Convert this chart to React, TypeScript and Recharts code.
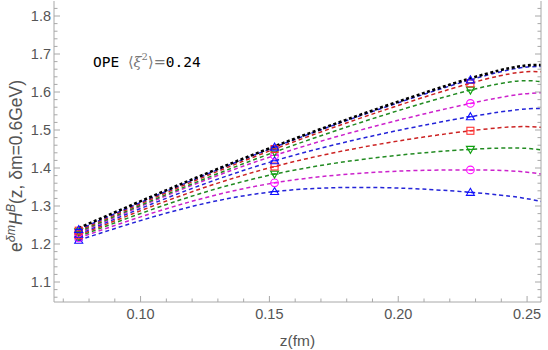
import React from 'react';
import { ComposedChart, Line, Scatter, XAxis, YAxis } from 'recharts';

// z values (fm): lattice points and the right edge of the plot
const curveZ = [0.076, 0.152, 0.228, 0.2554];
const markerZ = [0.076, 0.152, 0.228];

// OPE curve (black dotted)
const opeCurve = [1.242, 1.457, 1.636, 1.671];
// fitted curves, top to bottom
const curve1Blue = [1.238, 1.455, 1.632, 1.667];
const curve2Red = [1.235, 1.45, 1.623, 1.653];
const curve3Green = [1.232, 1.442, 1.605, 1.627];
const curve4Magenta = [1.229, 1.433, 1.57, 1.598];
const curve5Blue = [1.226, 1.419, 1.535, 1.557];
const curve6Red = [1.223, 1.404, 1.498, 1.507];
const curve7Green = [1.22, 1.384, 1.449, 1.448];
const curve8Magenta = [1.216, 1.361, 1.395, 1.384];
const curve9Blue = [1.21, 1.338, 1.336, 1.312];

const xTicks = [0.07, 0.08, 0.09, 0.1, 0.11, 0.12, 0.13, 0.14, 0.15, 0.16, 0.17, 0.18, 0.19, 0.2, 0.21, 0.22, 0.23, 0.24, 0.25];
const xMajor = [0.1, 0.15, 0.2, 0.25];
const yTicks = [1.06, 1.08, 1.1, 1.12, 1.14, 1.16, 1.18, 1.2, 1.22, 1.24, 1.26, 1.28, 1.3, 1.32, 1.34, 1.36, 1.38, 1.4, 1.42, 1.44, 1.46, 1.48, 1.5, 1.52, 1.54, 1.56, 1.58, 1.6, 1.62, 1.64, 1.66, 1.68, 1.7, 1.72, 1.74, 1.76, 1.78, 1.8, 1.82];
const yMajor = [1.1, 1.2, 1.3, 1.4, 1.5, 1.6, 1.7, 1.8];

const curves = [
  { key: 'c9', vals: curve9Blue, color: '#2424d8', marker: 'tri', mcolor: '#1010ff' },
  { key: 'c8', vals: curve8Magenta, color: '#cc22cc', marker: 'circ', mcolor: '#ff10ff' },
  { key: 'c7', vals: curve7Green, color: '#228b22', marker: 'itri', mcolor: '#10a010' },
  { key: 'c6', vals: curve6Red, color: '#cc2222', marker: 'sq', mcolor: '#ff3030' },
  { key: 'c5', vals: curve5Blue, color: '#2424d8', marker: 'tri', mcolor: '#1010ff' },
  { key: 'c4', vals: curve4Magenta, color: '#cc22cc', marker: 'circ', mcolor: '#ff10ff' },
  { key: 'c3', vals: curve3Green, color: '#228b22', marker: 'itri', mcolor: '#10a010' },
  { key: 'c2', vals: curve2Red, color: '#cc2222', marker: 'sq', mcolor: '#ff3030' },
  { key: 'c1', vals: curve1Blue, color: '#2424d8', marker: 'tri', mcolor: '#1010ff' },
];

const rows = curveZ.map((z, i) => {
  const r: any = { z, ope: opeCurve[i] };
  curves.forEach((c) => (r[c.key] = c.vals[i]));
  return r;
});

const near = (a: number, list: number[]) => list.some((m) => Math.abs(m - a) < 1e-6);
const FRAME = '#a8a8a8';
const LABEL = '#555555';
const FONT = '"Liberation Sans", Arial, sans-serif';

const BottomTick = (p: any) => {
  const { x, y, payload } = p;
  const major = near(payload.value, xMajor);
  return (
    <g>
      <line x1={x} x2={x} y1={y} y2={y - (major ? 6 : 3.5)} stroke={FRAME} />
      {major && (
        <text x={x} y={y + 12} textAnchor="middle" dominantBaseline="central" fill={LABEL} fontSize={14.5} fontFamily={FONT}>
          {payload.value.toFixed(2)}
        </text>
      )}
    </g>
  );
};
const TopTick = (p: any) => {
  const { x, y, payload } = p;
  const major = near(payload.value, xMajor);
  return <line x1={x} x2={x} y1={y} y2={y + (major ? 6 : 3.5)} stroke={FRAME} />;
};
const LeftTick = (p: any) => {
  const { x, y, payload } = p;
  const major = near(payload.value, yMajor);
  return (
    <g>
      <line x1={x} x2={x + (major ? 6 : 3.5)} y1={y} y2={y} stroke={FRAME} />
      {major && (
        <text x={x - 3} y={y} textAnchor="end" dominantBaseline="central" fill={LABEL} fontSize={14.5} fontFamily={FONT}>
          {payload.value.toFixed(1)}
        </text>
      )}
    </g>
  );
};
const RightTick = (p: any) => {
  const { x, y, payload } = p;
  const major = near(payload.value, yMajor);
  return <line x1={x} x2={x - (major ? 6 : 3.5)} y1={y} y2={y} stroke={FRAME} />;
};

const makeShape = (kind: string, color: string) => (p: any) => {
  const { cx, cy } = p;
  if (cx == null || cy == null) return <g />;
  const s = 4;
  let shape: any;
  if (kind === 'tri') shape = <path d={`M${cx},${cy - s} L${cx + s},${cy + s * 0.75} L${cx - s},${cy + s * 0.75} Z`} />;
  else if (kind === 'itri') shape = <path d={`M${cx},${cy + s} L${cx + s},${cy - s * 0.75} L${cx - s},${cy - s * 0.75} Z`} />;
  else if (kind === 'sq') shape = <rect x={cx - 3.5} y={cy - 3.5} width={7} height={7} />;
  else shape = <circle cx={cx} cy={cy} r={3.8} />;
  return (
    <g fill="none" stroke={color} strokeWidth={1.1}>
      {shape}
      <line x1={cx - s} x2={cx + s} y1={cy} y2={cy} />
    </g>
  );
};

export default function App() {
  return (
    <div style={{ position: 'absolute', left: 0, top: 0, width: 548, height: 350, background: '#fff' }}>
      <ComposedChart width={548} height={350} data={rows} margin={{ top: 1, right: 0, bottom: 0, left: 0 }}>
        <XAxis xAxisId="b" dataKey="z" type="number" domain={[0.0664, 0.2554]} allowDataOverflow ticks={xTicks} interval={0}
          tick={<BottomTick />} tickLine={false} tickSize={0} tickMargin={0} axisLine={{ stroke: FRAME }} height={48} />
        <XAxis xAxisId="t" orientation="top" dataKey="z" type="number" domain={[0.0664, 0.2554]} allowDataOverflow ticks={xTicks} interval={0}
          tick={<TopTick />} tickLine={false} tickSize={0} tickMargin={0} axisLine={{ stroke: FRAME }} height={0} />
        <YAxis yAxisId="l" type="number" domain={[1.0474, 1.8395]} allowDataOverflow ticks={yTicks} interval={0}
          tick={<LeftTick />} tickLine={false} tickSize={0} tickMargin={0} axisLine={{ stroke: FRAME }} width={54} />
        <YAxis yAxisId="r" orientation="right" type="number" domain={[1.0474, 1.8395]} allowDataOverflow ticks={yTicks} interval={0}
          tick={<RightTick />} tickLine={false} tickSize={0} tickMargin={0} axisLine={{ stroke: FRAME }} width={7} />
        {curves.map((c) => (
          <Line key={c.key} xAxisId="b" yAxisId="l" dataKey={c.key} type="natural" stroke={c.color} strokeWidth={1.5}
            strokeDasharray="4 3" dot={false} isAnimationActive={false} />
        ))}
        <Line xAxisId="b" yAxisId="l" dataKey="ope" type="natural" stroke="#000" strokeWidth={2.6}
          strokeDasharray="3 2.5" dot={false} isAnimationActive={false} />
        {curves.map((c) => (
          <Scatter key={'m' + c.key} xAxisId="b" yAxisId="l" dataKey="v"
            data={markerZ.map((z, i) => ({ z, v: c.vals[i] }))}
            shape={makeShape(c.marker, c.mcolor)} isAnimationActive={false} />
        ))}
      </ComposedChart>
      <svg width={548} height={350} style={{ position: 'absolute', left: 0, top: 0, pointerEvents: 'none' }}>
        <text transform="translate(22,166) rotate(-90)" textAnchor="middle" fill={LABEL} fontSize={17.5} fontFamily={FONT}>
          <tspan>e</tspan>
          <tspan dy={-7} fontSize={12.5} fontStyle="italic">δm</tspan>
          <tspan dy={7} fontStyle="italic">H</tspan>
          <tspan dy={-7} fontSize={12.5} fontStyle="italic">B</tspan>
          <tspan dy={7}>(z, δm=0.6GeV)</tspan>
        </text>
        <text x={297.5} y={340} textAnchor="middle" dominantBaseline="central" fill={LABEL} fontSize={15.5} fontFamily={FONT}>
          z(fm)
        </text>
        <text x={93} y={62} dominantBaseline="central" fontSize={14.5}>
          <tspan fontFamily='"DejaVu Sans Mono", monospace' fill="#000">OPE </tspan>
          <tspan fontFamily='"DejaVu Serif", serif' fill="#777">⟨</tspan>
          <tspan fontFamily='"DejaVu Serif", serif' fill="#777" fontStyle="italic">ξ</tspan>
          <tspan fontFamily='"DejaVu Serif", serif' fill="#777" fontSize={10} dy={-6}>2</tspan>
          <tspan fontFamily='"DejaVu Serif", serif' fill="#777" dy={6}>⟩=</tspan>
          <tspan fontFamily='"DejaVu Sans Mono", monospace' fill="#000">0.24</tspan>
        </text>
      </svg>
    </div>
  );
}
